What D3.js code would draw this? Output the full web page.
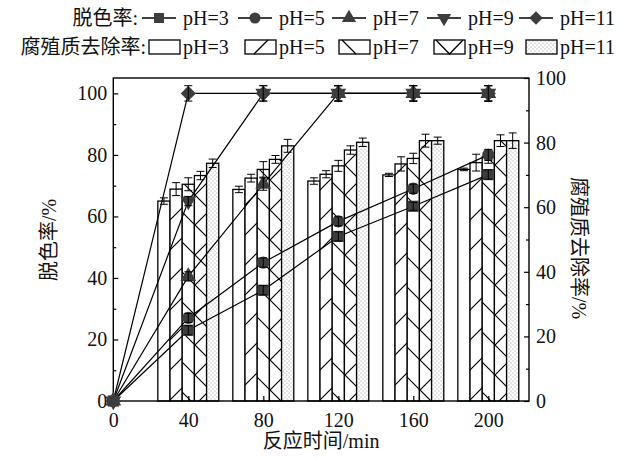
<!DOCTYPE html>
<html>
<head>
<meta charset="utf-8">
<script src="https://cdn.jsdelivr.net/npm/d3@7/dist/d3.min.js"></script>
<style>
body { margin: 0; background: #fff; }
text { font-family: "Liberation Serif", "Times New Roman", "Noto Sans CJK SC", serif; fill: #111; }
</style>
</head>
<body>
<div id="chart"></div>
<script>
var times = [0, 40, 80, 120, 160, 200];
var barTimes = [40, 80, 120, 160, 200];
var phLabels = ["pH=3", "pH=5", "pH=7", "pH=9", "pH=11"];
var xTicks = [0, 40, 80, 120, 160, 200];
var yTicks = [0, 20, 40, 60, 80, 100];

// 脱色率 (left axis), one array per pH
var decolor3 = [0, 23, 36, 53.5, 63.3, 73.6];
var decolor5 = [0, 27, 45, 58.4, 69, 80];
var decolor7 = [0, 40.5, 70.5, 100, 100, 100];
var decolor9 = [0, 65, 100, 100, 100, 100];
var decolor11 = [0, 100, 100, 100, 100, 100];
var decolorErr3 = [0, 1.5, 1.5, 1.5, 1.3, 1.5];
var decolorErr5 = [0, 1.5, 1.5, 1.5, 1.5, 1.8];
var decolorErr7 = [0, 1.5, 2, 2.5, 2.5, 2.5];
var decolorErr9 = [0, 1.5, 2.5, 2.5, 2.5, 2.5];
var decolorErr11 = [0, 2.5, 2.5, 2.5, 2.5, 2.5];

// 腐殖质去除率 (right axis)
var humic3 = [61.9, 65.5, 68.1, 70.0, 71.7];
var humic5 = [65.6, 69.0, 70.2, 73.4, 73.8];
var humic7 = [67.1, 71.7, 72.8, 75.1, 75.6];
var humic9 = [69.8, 74.8, 77.7, 80.6, 80.6];
var humic11 = [73.6, 79.0, 80.1, 80.6, 80.6];
var humicErr3 = [1, 1, 1, 0.5, 0.4];
var humicErr5 = [2, 1.2, 1.1, 2.2, 2.6];
var humicErr7 = [2, 2.4, 1.7, 1.6, 2];
var humicErr9 = [1.3, 1.2, 1.3, 2, 1.8];
var humicErr11 = [1.3, 2, 1.3, 1.1, 2.4];

var decolor = [decolor3, decolor5, decolor7, decolor9, decolor11];
var decolorErr = [decolorErr3, decolorErr5, decolorErr7, decolorErr9, decolorErr11];
var humic = [humic3, humic5, humic7, humic9, humic11];
var humicErr = [humicErr3, humicErr5, humicErr7, humicErr9, humicErr11];

var plotL = 113.3, plotR = 529, plotT = 78, plotB = 401;

var svg = d3.select("#chart").append("svg")
    .attr("width", 622)
    .attr("height", 459);

var x = d3.scaleLinear().domain([0, 221.7]).range([plotL, plotR]);
var inner = d3.scaleBand().domain(phLabels).range([-16.25, 16.25]);
var yLeft = d3.scaleLinear().domain([0, 105]).range([plotB, plotT]);
var yRight = d3.scaleLinear().domain([0, 100]).range([plotB, plotT]);

// fill patterns
var defs = svg.append("defs");
function hatch(id, paths)
{
    var p = defs.append("pattern")
        .attr("id", id)
        .attr("patternUnits", "userSpaceOnUse")
        .attr("width", 30)
        .attr("height", 30);
    p.append("rect").attr("width", 30).attr("height", 30).attr("fill", "#fff");
    if (paths)
        p.append("path").attr("d", paths).attr("stroke", "#000").attr("stroke-width", 1.2).attr("fill", "none");
}
var fwd = "M0,30L30,0M-2,2L2,-2M28,32L32,28";
var back = "M0,0L30,30M28,-2L32,2M-2,28L2,32";
hatch("p3", null);
hatch("p5", fwd);
hatch("p7", back);
hatch("p9", fwd + back);
var dots = defs.append("pattern")
    .attr("id", "p11")
    .attr("patternUnits", "userSpaceOnUse")
    .attr("width", 4)
    .attr("height", 4);
dots.append("rect").attr("width", 4).attr("height", 4).attr("fill", "#fff");
dots.append("circle").attr("cx", 1).attr("cy", 1).attr("r", 0.55).attr("fill", "#888");
dots.append("circle").attr("cx", 3).attr("cy", 3).attr("r", 0.55).attr("fill", "#888");
var fills = ["url(#p3)", "url(#p5)", "url(#p7)", "url(#p9)", "url(#p11)"];

// bars
var barData = [];
barTimes.forEach(function(t, i) {
    phLabels.forEach(function(ph, j) {
        barData.push({ t: t, ph: ph, k: j, v: humic[j][i], e: humicErr[j][i] });
    });
});
var bw = x(inner.bandwidth()) - x(0);

svg.append("g").selectAll("rect")
    .data(barData)
    .enter().append("rect")
    .attr("x", function(d) { return x(d.t + inner(d.ph)); })
    .attr("y", function(d) { return yRight(d.v); })
    .attr("width", bw)
    .attr("height", function(d) { return plotB - yRight(d.v); })
    .attr("fill", function(d) { return fills[d.k]; })
    .attr("stroke", "#000")
    .attr("stroke-width", 1.3);

var barErr = svg.append("g").attr("stroke", "#000").attr("stroke-width", 1).attr("fill", "none");
barErr.selectAll("path")
    .data(barData)
    .enter().append("path")
    .attr("d", function(d) {
        var cx = x(d.t + inner(d.ph)) + bw / 2;
        var y1 = yRight(d.v + d.e), y2 = yRight(d.v - d.e);
        return "M" + cx + "," + y1 + "V" + y2 +
            "M" + (cx - 4) + "," + y1 + "H" + (cx + 4) +
            "M" + (cx - 4) + "," + y2 + "H" + (cx + 4);
    });

// axes
var axisFont = 20;
svg.append("g").attr("transform", "translate(" + plotL + ",0)")
    .call(d3.axisLeft(yLeft).tickValues(yTicks).tickSize(-5).tickSizeOuter(0).tickPadding(6));
svg.append("g").attr("transform", "translate(" + plotL + ",0)")
    .call(d3.axisLeft(yLeft).tickValues([10, 30, 50, 70, 90]).tickSize(-3).tickSizeOuter(0).tickFormat(""));
svg.append("g").attr("transform", "translate(" + plotR + ",0)")
    .call(d3.axisRight(yRight).tickValues(yTicks).tickSize(-5).tickSizeOuter(0).tickPadding(7));
svg.append("g").attr("transform", "translate(" + plotR + ",0)")
    .call(d3.axisRight(yRight).tickValues([10, 30, 50, 70, 90]).tickSize(-3).tickSizeOuter(0).tickFormat(""));
svg.append("g").attr("transform", "translate(0," + plotB + ")")
    .call(d3.axisBottom(x).tickValues(xTicks).tickSize(-5).tickSizeOuter(0).tickPadding(12));
svg.selectAll(".domain").remove();
svg.selectAll(".tick line").attr("stroke", "#000").attr("stroke-width", 1.2);
svg.selectAll(".tick text").attr("font-size", axisFont).attr("fill", "#111")
    .style("font-family", "'Liberation Serif', serif");

svg.append("rect")
    .attr("x", plotL).attr("y", plotT)
    .attr("width", plotR - plotL).attr("height", plotB - plotT)
    .attr("fill", "none").attr("stroke", "#000").attr("stroke-width", 1.4);

// lines with markers
var symbols = [
    { type: d3.symbolSquare, size: 125, rot: 0 },
    { type: d3.symbolCircle, size: 120, rot: 0 },
    { type: d3.symbolTriangle, size: 110, rot: 0 },
    { type: d3.symbolTriangle, size: 110, rot: 180 },
    { type: d3.symbolSquare, size: 115, rot: 45 }
];
var line = d3.line()
    .x(function(d) { return x(d.t); })
    .y(function(d) { return yLeft(d.v); });

decolor.forEach(function(vals, j) {
    var pts = times.map(function(t, i) { return { t: t, v: vals[i], e: decolorErr[j][i] }; });
    svg.append("path")
        .datum(pts)
        .attr("d", line)
        .attr("fill", "none")
        .attr("stroke", "#000")
        .attr("stroke-width", 1.2);
});
decolor.forEach(function(vals, j) {
    var pts = times.map(function(t, i) { return { t: t, v: vals[i], e: decolorErr[j][i] }; });
    var g = svg.append("g");
    g.selectAll("path.m")
        .data(pts)
        .enter().append("path")
        .attr("class", "m")
        .attr("d", d3.symbol().type(symbols[j].type).size(symbols[j].size))
        .attr("transform", function(d) {
            return "translate(" + x(d.t) + "," + yLeft(d.v) + ") rotate(" + symbols[j].rot + ")";
        })
        .attr("fill", "#3d3d3d");
    g.selectAll("path.e")
        .data(pts.filter(function(d) { return d.e > 0; }))
        .enter().append("path")
        .attr("class", "e")
        .attr("d", function(d) {
            var cx = x(d.t), y1 = yLeft(d.v + d.e), y2 = yLeft(d.v - d.e);
            return "M" + cx + "," + y1 + "V" + y2 +
                "M" + (cx - 4) + "," + y1 + "H" + (cx + 4) +
                "M" + (cx - 4) + "," + y2 + "H" + (cx + 4);
        })
        .attr("stroke", "#000")
        .attr("stroke-width", 1)
        .attr("fill", "none");
});

// axis titles
svg.append("text")
    .attr("transform", "translate(51,240) rotate(-90)")
    .attr("text-anchor", "middle")
    .attr("dominant-baseline", "middle")
    .attr("font-size", 20)
    .text("脱色率/%");
svg.append("text")
    .attr("transform", "translate(577,248) rotate(90)")
    .attr("text-anchor", "middle")
    .attr("dominant-baseline", "middle")
    .attr("font-size", 20)
    .text("腐殖质去除率/%");
svg.append("text")
    .attr("x", (plotL + plotR) / 2)
    .attr("y", 448)
    .attr("text-anchor", "middle")
    .attr("font-size", 20)
    .text("反应时间/min");

// legend
var legendX = [183, 279, 373, 468, 560];
var row1 = 18, row2 = 47;
svg.append("text").attr("x", 138).attr("y", row1 + 7).attr("text-anchor", "end")
    .attr("font-size", 20).text("脱色率:");
svg.append("text").attr("x", 146).attr("y", row2 + 7).attr("text-anchor", "end")
    .attr("font-size", 20).text("腐殖质去除率:");

phLabels.forEach(function(ph, j) {
    var lx = legendX[j];
    var cx = lx - 24;
    svg.append("path")
        .attr("d", "M" + (cx - 17) + "," + row1 + "H" + (cx + 17))
        .attr("stroke", "#000").attr("stroke-width", 1.4);
    svg.append("path")
        .attr("d", d3.symbol().type(symbols[j].type).size(symbols[j].size * 0.8))
        .attr("transform", "translate(" + cx + "," + row1 + ") rotate(" + symbols[j].rot + ")")
        .attr("fill", "#3d3d3d");
    svg.append("text").attr("x", lx).attr("y", row1 + 7).attr("font-size", 20).text(ph);

    var bx = lx - 34, by = row2 - 7, bwid = 31, bh = 14;
    svg.append("rect")
        .attr("x", bx).attr("y", by).attr("width", bwid).attr("height", bh)
        .attr("fill", j == 4 ? "url(#p11)" : "#fff")
        .attr("stroke", "#000").attr("stroke-width", 1.3);
    var d = "";
    if (j == 1) d = "M" + (bx + 9) + "," + (by + bh) + "L" + (bx + 23) + "," + by;
    if (j == 2) d = "M" + (bx + 3) + "," + by + "L" + (bx + 17) + "," + (by + bh);
    if (j == 3) d = "M" + (bx + 2) + "," + by + "L" + (bx + 15.5) + "," + (by + bh) + "L" + (bx + 29) + "," + by;
    if (d)
        svg.append("path").attr("d", d).attr("stroke", "#000").attr("stroke-width", 1.3).attr("fill", "none");
    svg.append("text").attr("x", lx).attr("y", row2 + 7).attr("font-size", 20).text(ph);
});
</script>
</body>
</html>
